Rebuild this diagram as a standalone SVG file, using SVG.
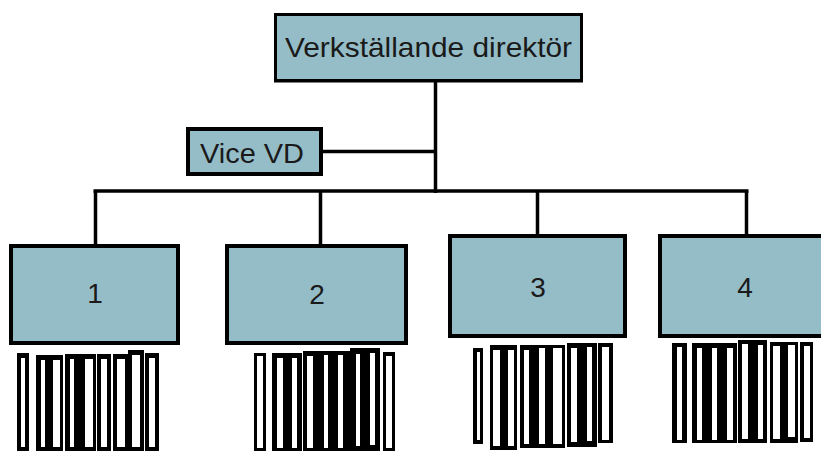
<svg xmlns="http://www.w3.org/2000/svg" width="821" height="451" viewBox="0 0 821 451">
  <style>
    .box { fill: #95bdc8; stroke: #000; stroke-width: 4; }
    .lbl { font-family: "Liberation Sans", Arial, sans-serif; font-size: 28px; fill: #1a1a1a; text-anchor: middle; }
    .wire { stroke: #000; stroke-width: 3.5; fill: none; }
    .staff rect.b { fill: #000; }
    .staff rect.w { fill: #fff; }
  </style>
  <rect width="821" height="451" fill="#fff"/>

  <!-- connectors -->
  <g id="connectors">
    <line class="wire" x1="435.5" y1="80" x2="435.5" y2="193"/>
    <line class="wire" x1="321" y1="151.5" x2="435.5" y2="151.5"/>
    <line class="wire" x1="93.5" y1="191" x2="748.5" y2="191"/>
    <line class="wire" x1="95.5" y1="191" x2="95.5" y2="246"/>
    <line class="wire" x1="320.5" y1="191" x2="320.5" y2="246"/>
    <line class="wire" x1="537.5" y1="191" x2="537.5" y2="236"/>
    <line class="wire" x1="746.5" y1="191" x2="746.5" y2="236"/>
  </g>

  <!-- chief executive -->
  <g id="vd">
    <rect class="box" x="275.5" y="14.5" width="306" height="66" style="stroke-width:3"/>
    <line x1="274" y1="81" x2="583" y2="81" stroke="#000" stroke-width="3"/>
    <text class="lbl" x="428.5" y="57" textLength="287" lengthAdjust="spacingAndGlyphs">Verkställande direktör</text>
  </g>

  <!-- deputy -->
  <g id="vice-vd">
    <rect class="box" x="188" y="129" width="133" height="45"/>
    <text class="lbl" x="252" y="163" textLength="104" lengthAdjust="spacingAndGlyphs">Vice VD</text>
  </g>

  <!-- departments -->
  <g id="dept-1">
    <rect class="box" x="11" y="246" width="167" height="97"/>
    <text class="lbl" x="95" y="303">1</text>
  </g>
  <g id="dept-2">
    <rect class="box" x="227" y="246" width="179" height="97"/>
    <text class="lbl" x="317" y="304">2</text>
  </g>
  <g id="dept-3">
    <rect class="box" x="450" y="236" width="175" height="100"/>
    <text class="lbl" x="538" y="297">3</text>
  </g>
  <g id="dept-4">
    <rect class="box" x="660" y="236" width="200" height="100"/>
    <text class="lbl" x="745" y="297">4</text>
  </g>

  <!-- staff rows under each department -->
  <g id="staff-1" class="staff">
    <rect class="b" x="17" y="353" width="12" height="98"/>
    <rect class="b" x="36" y="355" width="27" height="96"/>
    <rect class="b" x="65" y="354" width="31" height="97"/>
    <rect class="b" x="97" y="354" width="14" height="97"/>
    <rect class="b" x="113" y="354" width="16" height="97"/>
    <rect class="b" x="128" y="350" width="16" height="101"/>
    <rect class="b" x="145" y="353" width="14" height="98"/>
    <rect class="w" x="21" y="358" width="4" height="89"/>
    <rect class="w" x="41" y="360" width="4" height="87"/>
    <rect class="w" x="53" y="360" width="7" height="87"/>
    <rect class="w" x="70" y="359" width="4" height="88"/>
    <rect class="w" x="85" y="359" width="8" height="88"/>
    <rect class="w" x="101" y="359" width="6" height="88"/>
    <rect class="w" x="117" y="359" width="8" height="88"/>
    <rect class="w" x="132" y="355" width="8" height="92"/>
    <rect class="w" x="149" y="358" width="6" height="89"/>
  </g>
  <g id="staff-2" class="staff">
    <rect class="b" x="254" y="353" width="12" height="98"/>
    <rect class="b" x="272" y="353" width="30" height="98"/>
    <rect class="b" x="303" y="351" width="47" height="100"/>
    <rect class="b" x="350" y="348" width="30" height="103"/>
    <rect class="b" x="383" y="352" width="12" height="99"/>
    <rect class="w" x="257" y="356" width="6" height="92"/>
    <rect class="w" x="277" y="358" width="6" height="90"/>
    <rect class="w" x="292" y="358" width="5" height="90"/>
    <rect class="w" x="307" y="356" width="6" height="92"/>
    <rect class="w" x="324" y="355" width="4" height="93"/>
    <rect class="w" x="338" y="355" width="5" height="93"/>
    <rect class="w" x="356" y="354" width="4" height="92"/>
    <rect class="w" x="370" y="353" width="5" height="92"/>
    <rect class="w" x="386" y="356" width="6" height="92"/>
  </g>
  <g id="staff-3" class="staff">
    <rect class="b" x="473" y="348" width="10" height="96"/>
    <rect class="b" x="490" y="345" width="27" height="105"/>
    <rect class="b" x="520" y="345" width="45" height="103"/>
    <rect class="b" x="567" y="343" width="30" height="104"/>
    <rect class="b" x="598" y="343" width="15" height="100"/>
    <rect class="w" x="477" y="352" width="3" height="88"/>
    <rect class="w" x="493" y="350" width="7" height="96"/>
    <rect class="w" x="508" y="350" width="6" height="96"/>
    <rect class="w" x="524" y="350" width="5" height="94"/>
    <rect class="w" x="539" y="348" width="6" height="96"/>
    <rect class="w" x="553" y="348" width="9" height="96"/>
    <rect class="w" x="571" y="348" width="6" height="94"/>
    <rect class="w" x="587" y="347" width="5" height="94"/>
    <rect class="w" x="602" y="347" width="7" height="93"/>
  </g>
  <g id="staff-4" class="staff">
    <rect class="b" x="672" y="343" width="15" height="100"/>
    <rect class="b" x="692" y="343" width="45" height="100"/>
    <rect class="b" x="738" y="340" width="29" height="103"/>
    <rect class="b" x="770" y="342" width="28" height="101"/>
    <rect class="b" x="800" y="342" width="13" height="100"/>
    <rect class="w" x="677" y="347" width="5" height="93"/>
    <rect class="w" x="697" y="348" width="5" height="92"/>
    <rect class="w" x="712" y="348" width="5" height="92"/>
    <rect class="w" x="727" y="348" width="6" height="92"/>
    <rect class="w" x="742" y="344" width="6" height="95"/>
    <rect class="w" x="758" y="345" width="5" height="94"/>
    <rect class="w" x="773" y="346" width="7" height="93"/>
    <rect class="w" x="788" y="345" width="7" height="92"/>
    <rect class="w" x="804" y="346" width="6" height="92"/>
  </g>
</svg>
